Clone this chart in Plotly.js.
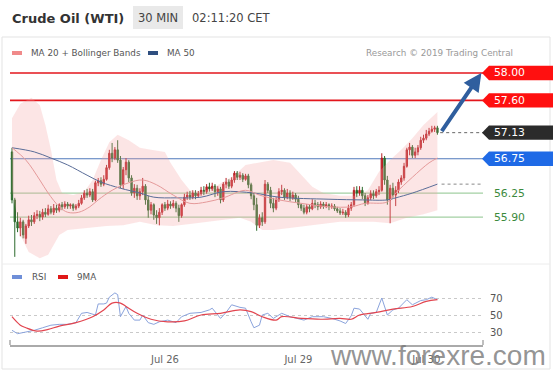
<!DOCTYPE html>
<html><head><meta charset="utf-8">
<script src="https://cdn.plot.ly/plotly-3.0.1.min.js"></script>
<style>html,body{margin:0;padding:0;background:#fff;}#chart{width:553px;height:375px;}</style>
</head><body><div id="chart"></div>
<script>
// ---- candle data (30 min) ----
const open = [56.85,56.15,55.83,55.74,55.83,55.59,55.77,55.86,55.83,55.92,
55.94,55.90,55.97,55.94,56.02,55.97,56.03,56.00,56.08,56.05,
56.09,56.06,56.08,56.03,56.06,56.10,56.18,56.25,56.22,56.27,
56.15,56.40,56.43,56.38,56.45,56.62,56.83,56.76,56.88,56.73,
56.37,56.59,56.70,56.47,56.25,56.32,56.21,56.27,56.35,56.15,
56.00,56.08,55.93,55.89,55.97,56.08,56.03,56.09,56.06,56.10,
56.03,55.92,56.08,56.19,56.22,56.19,56.25,56.21,56.24,56.29,
56.27,56.34,56.31,56.35,56.27,56.31,56.15,56.38,56.41,56.35,
56.44,56.54,56.48,56.51,56.45,56.50,56.37,56.21,56.08,55.78,
55.89,55.83,56.38,56.29,56.10,56.03,56.15,56.27,56.29,56.19,
56.25,56.18,56.22,56.16,56.08,56.03,55.97,56.05,56.02,56.10,
56.08,56.05,56.09,56.06,56.08,56.05,56.06,56.02,55.99,55.96,
55.97,55.93,56.03,56.08,56.29,56.25,56.29,56.21,56.10,56.18,
56.24,56.21,56.27,56.29,56.76,56.44,56.15,56.32,56.22,56.29,
56.41,56.47,56.64,56.88,56.92,56.80,56.85,56.91,57.02,57.05,
57.11,57.15,57.18,57.20];
const close = [56.15,55.83,55.74,55.83,55.64,55.77,55.86,55.83,55.92,55.94,
55.90,55.97,55.94,56.02,55.97,56.03,56.00,56.08,56.05,56.09,
56.06,56.08,56.03,56.06,56.10,56.18,56.25,56.22,56.27,56.15,
56.40,56.43,56.38,56.45,56.62,56.83,56.76,56.88,56.73,56.37,
56.59,56.70,56.47,56.25,56.32,56.21,56.27,56.35,56.15,56.00,
56.08,55.93,55.89,55.97,56.08,56.03,56.09,56.06,56.10,56.03,
55.92,56.08,56.19,56.22,56.19,56.25,56.21,56.24,56.29,56.27,
56.34,56.31,56.35,56.27,56.31,56.15,56.38,56.41,56.35,56.44,
56.54,56.48,56.51,56.45,56.50,56.37,56.21,56.08,55.78,55.89,
55.83,56.38,56.29,56.10,56.03,56.15,56.27,56.29,56.19,56.25,
56.18,56.22,56.16,56.08,56.03,55.97,56.05,56.02,56.10,56.08,
56.05,56.09,56.06,56.08,56.05,56.06,56.02,55.99,55.96,55.97,
55.93,56.03,56.08,56.29,56.25,56.29,56.21,56.10,56.18,56.24,
56.21,56.27,56.29,56.76,56.44,56.15,56.32,56.22,56.29,56.41,
56.47,56.64,56.88,56.92,56.80,56.85,56.91,57.02,57.05,57.11,
57.15,57.18,57.20,57.13];
const high = [56.91,56.18,55.97,55.89,55.86,55.80,55.92,55.93,55.97,56.00,
55.99,56.02,56.03,56.08,56.06,56.09,56.08,56.10,56.12,56.13,
56.12,56.10,56.10,56.09,56.15,56.22,56.29,56.31,56.32,56.31,
56.43,56.47,56.48,56.51,56.66,56.88,56.98,56.92,57.02,56.79,
56.63,56.76,56.73,56.51,56.38,56.37,56.32,56.47,56.38,56.21,
56.12,56.10,56.00,56.03,56.10,56.12,56.15,56.13,56.15,56.13,
56.08,56.10,56.24,56.27,56.28,56.29,56.29,56.28,56.34,56.35,
56.38,56.40,56.40,56.38,56.35,56.34,56.41,56.47,56.45,56.48,
56.57,56.57,56.56,56.54,56.53,56.53,56.40,56.25,56.18,55.94,
55.97,56.44,56.41,56.34,56.18,56.19,56.32,56.37,56.32,56.31,
56.29,56.27,56.25,56.21,56.10,56.08,56.09,56.09,56.16,56.15,
56.12,56.13,56.12,56.12,56.10,56.10,56.09,56.05,56.03,56.02,
56.00,56.08,56.12,56.34,56.35,56.35,56.34,56.25,56.22,56.29,
56.29,56.31,56.35,56.83,56.79,56.50,56.37,56.40,56.35,56.45,
56.51,56.69,56.91,56.98,56.95,56.91,56.95,57.07,57.10,57.17,
57.20,57.23,57.23,57.23];
const low = [56.10,55.32,55.68,55.62,55.59,55.51,55.74,55.77,55.80,55.87,
55.84,55.86,55.90,55.92,55.94,55.93,55.96,55.97,56.00,56.02,
56.02,56.02,55.99,56.00,56.03,56.08,56.15,56.18,56.19,56.12,
56.13,56.35,56.34,56.35,56.43,56.59,56.70,56.73,56.69,56.32,
56.31,56.51,56.41,56.21,56.18,56.15,56.15,56.22,56.08,55.89,
55.94,55.86,55.80,55.78,55.93,55.99,56.00,56.02,56.03,55.97,
55.83,55.89,56.05,56.15,56.15,56.16,56.16,56.18,56.21,56.22,
56.24,56.27,56.28,56.19,56.21,56.10,56.12,56.32,56.31,56.32,
56.40,56.44,56.44,56.41,56.43,56.32,56.16,56.00,55.70,55.74,
55.77,55.80,56.25,56.03,55.97,56.00,56.12,56.22,56.15,56.16,
56.13,56.15,56.12,56.03,55.99,55.94,55.94,55.97,56.00,56.03,
56.00,56.02,56.02,56.03,56.00,56.02,55.99,55.96,55.93,55.93,
55.89,55.90,55.99,56.05,56.19,56.21,56.16,56.06,56.08,56.15,
56.16,56.18,56.22,56.27,56.37,56.08,55.81,56.18,56.06,56.25,
56.37,56.43,56.62,56.80,56.76,56.76,56.80,56.88,56.98,57.02,
57.08,57.13,57.14,57.10];

// ---- indicators (candle index, value) ----
const ma20Idx = [0,5,10,13,17,20,24,28,31,36,42,47,52,58,64,70,76,84,89,96,104,114,122,127,135,138,144,150,153];
const ma20 = [56.91,56.73,56.44,56.25,56.05,55.97,55.97,56.05,56.15,56.29,56.40,56.44,56.37,56.22,56.10,56.12,56.18,56.29,56.22,56.15,56.10,56.05,56.05,56.10,56.12,56.25,56.48,56.69,56.76];
const ma50Idx = [0,8,14,20,27,32,39,46,51,59,68,76,87,96,114,126,135,138,144,153];
const ma50 = [56.91,56.85,56.76,56.66,56.51,56.41,56.32,56.25,56.19,56.18,56.19,56.27,56.25,56.19,56.16,56.15,56.15,56.18,56.25,56.38];
const bbUpIdx = [0,3,7,10,12,14,16,18,22,26,29,32,35,38,42,46,50,55,57,61,64,68,72,76,80,84,88,94,100,104,108,112,118,124,128,132,136,140,144,148,153];
const bbUp = [57.34,57.55,57.64,57.53,57.24,56.88,56.44,56.25,56.22,56.27,56.44,56.73,56.99,57.10,57.02,56.91,56.88,56.85,56.69,56.44,56.29,56.27,56.32,56.41,56.51,56.66,56.69,56.73,56.69,56.51,56.34,56.25,56.21,56.21,56.29,56.56,56.73,56.88,57.05,57.24,57.43];
const bbLoIdx = [0,3,6,10,13,15,17,20,26,30,34,40,46,52,58,64,70,76,82,86,90,94,100,106,112,118,124,130,136,142,148,153];
const bbLo = [56.29,55.64,55.39,55.30,55.35,55.49,55.64,55.71,55.74,55.75,55.77,55.78,55.83,55.78,55.77,55.80,55.83,55.86,55.89,55.83,55.71,55.71,55.74,55.77,55.80,55.83,55.83,55.83,55.81,55.89,55.94,56.00];
const rsiIdx = [0,2,5,8,11,14,17,20,23,25,27,30,31,33,34,35,37,38,39,41,42,44,46,47,49,51,53,56,58,59,61,64,68,71,72,75,77,79,82,84,86,87,89,90,92,94,96,97,100,103,105,108,112,115,118,120,122,123,125,128,129,131,133,135,137,139,142,144,147,149,151,153];
const rsi = [32,28,30,32,35,38,39,39,41,52,53,50,63,63,64,71,76,74,48,60,52,44,44,50,41,39,42,44,42,41,48,52,53,56,58,46,53,62,59,58,42,35,38,50,52,46,50,52,48,46,44,48,48,46,43,40,49,58,57,45,52,53,70,50,56,58,68,62,67,68,71,68];
const rsiMaIdx = [0,3,5,9,13,17,23,29,33,36,39,41,45,50,56,62,68,75,82,86,90,95,97,104,111,118,122,125,131,137,144,149,153];
const rsiMa = [48,38,35,31,33,37,41,48,56,64,64,60,52,45,42,43,50,52,56,54,48,44,48,46,45,46,45,50,53,57,60,66,68];

// ---- levels & labels ----
const resistLevels = [58.00, 57.60];
const pivotLevel = 56.75;
const supportLevels = [56.25, 55.90];
const tickPos = [55, 103, 149];
const tickText = ['Jul 26', 'Jul 29', 'Jul 30'];
const rsiTicks = [30, 50, 70];

const idx = open.map((_, i) => i);
const lastIdx = idx[idx.length - 1];
const lastClose = close[close.length - 1];
const lastMa50 = ma50[ma50.length - 1];

// layout geometry (pixels)
const Lp = 10, Rp = 483, Tp = 62, Bp = 345;
const px = x => (x - Lp) / (Rp - Lp);
const py = y => (Bp - y) / (Bp - Tp);
const xRange = [-0.72, 169.4];
const yRange = [55.245, 58.16];
const priceBottomPx = 262;
const pricePerPx = (yRange[1] - yRange[0]) / (priceBottomPx - Tp);
const FONT = 'DejaVu Sans, Verdana, sans-serif';

const data = [
  {x: bbLoIdx, y: bbLo, type: 'scatter', mode: 'lines', line: {width: 0, color: 'rgba(0,0,0,0)'}, hoverinfo: 'skip', xaxis: 'x', yaxis: 'y'},
  {x: bbUpIdx, y: bbUp, type: 'scatter', mode: 'lines', line: {width: 0, color: 'rgba(0,0,0,0)'}, fill: 'tonexty', fillcolor: 'rgba(246,160,160,0.28)', hoverinfo: 'skip', xaxis: 'x', yaxis: 'y'},
  {x: ma50Idx, y: ma50, type: 'scatter', mode: 'lines', line: {width: 1, color: '#5a6d98', shape: 'spline'}, xaxis: 'x', yaxis: 'y'},
  {x: ma20Idx, y: ma20, type: 'scatter', mode: 'lines', line: {width: 1, color: '#e59a9a', shape: 'spline'}, xaxis: 'x', yaxis: 'y'},
  {x: idx, open: open, high: high, low: low, close: close, type: 'candlestick', xaxis: 'x', yaxis: 'y',
   increasing: {line: {color: '#b52025', width: 1}, fillcolor: '#d9272d'},
   decreasing: {line: {color: '#2c6a2c', width: 1}, fillcolor: '#2f6f2f'},
   whiskerwidth: 0, hoverinfo: 'skip'},
  {x: rsiIdx, y: rsi, type: 'scatter', mode: 'lines', line: {width: 1, color: '#8aa3dc'}, xaxis: 'x', yaxis: 'y2'},
  {x: rsiMaIdx, y: rsiMa, type: 'scatter', mode: 'lines', line: {width: 1.2, color: '#e2454f', shape: 'spline'}, xaxis: 'x', yaxis: 'y2'}
];

const shapes = [];
const annotations = [];

// frame and separators
shapes.push({type: 'rect', xref: 'paper', yref: 'paper', x0: px(2), x1: px(550), y0: py(369), y1: py(37), line: {color: '#e3e3e3', width: 1}, layer: 'below'});
shapes.push({type: 'line', xref: 'paper', yref: 'paper', x0: px(2), x1: px(550), y0: py(264), y1: py(264), line: {color: '#ececec', width: 1}, layer: 'below'});
// axis end ticks
shapes.push({type: 'line', xref: 'paper', yref: 'paper', x0: 0, x1: 0, y0: 0, y1: py(340), line: {color: '#aaaaaa', width: 1.5}});
shapes.push({type: 'line', xref: 'paper', yref: 'paper', x0: 1, x1: 1, y0: 0, y1: py(340), line: {color: '#aaaaaa', width: 1.5}});

// header
shapes.push({type: 'rect', xref: 'paper', yref: 'paper', x0: px(133), x1: px(183), y0: py(29), y1: py(6), fillcolor: '#e9e9e9', line: {width: 0}});
annotations.push({xref: 'paper', yref: 'paper', x: px(10), y: py(18), xanchor: 'left', yanchor: 'middle', text: '<b>Crude Oil (WTI)</b>', showarrow: false, font: {family: FONT, size: 13, color: '#333'}});
annotations.push({xref: 'paper', yref: 'paper', x: px(158), y: py(18), xanchor: 'center', yanchor: 'middle', text: '30 MIN', showarrow: false, font: {family: FONT, size: 11.5, color: '#444'}});
annotations.push({xref: 'paper', yref: 'paper', x: px(190), y: py(18), xanchor: 'left', yanchor: 'middle', text: '02:11:20 CET', showarrow: false, font: {family: FONT, size: 11.5, color: '#444'}});

// legends
const legFont = {family: FONT, size: 8.8, color: '#555'};
shapes.push({type: 'line', xref: 'paper', yref: 'paper', x0: px(12), x1: px(22), y0: py(53), y1: py(53), line: {color: '#f08a8a', width: 4}});
annotations.push({xref: 'paper', yref: 'paper', x: px(29), y: py(53), xanchor: 'left', yanchor: 'middle', text: 'MA 20 + Bollinger Bands', showarrow: false, font: legFont});
shapes.push({type: 'line', xref: 'paper', yref: 'paper', x0: px(148), x1: px(158), y0: py(53), y1: py(53), line: {color: '#2f4f80', width: 4}});
annotations.push({xref: 'paper', yref: 'paper', x: px(165), y: py(53), xanchor: 'left', yanchor: 'middle', text: 'MA 50', showarrow: false, font: legFont});
annotations.push({xref: 'paper', yref: 'paper', x: px(515), y: py(53), xanchor: 'right', yanchor: 'middle', text: 'Research © 2019 Trading Central', showarrow: false, font: {family: FONT, size: 8.8, color: '#999'}});
shapes.push({type: 'line', xref: 'paper', yref: 'paper', x0: px(12), x1: px(22), y0: py(277), y1: py(277), line: {color: '#6f8fd8', width: 4}});
annotations.push({xref: 'paper', yref: 'paper', x: px(30), y: py(277), xanchor: 'left', yanchor: 'middle', text: 'RSI', showarrow: false, font: legFont});
shapes.push({type: 'line', xref: 'paper', yref: 'paper', x0: px(58), x1: px(68), y0: py(277), y1: py(277), line: {color: '#e01818', width: 4}});
annotations.push({xref: 'paper', yref: 'paper', x: px(75), y: py(277), xanchor: 'left', yanchor: 'middle', text: '9MA', showarrow: false, font: legFont});

// level lines
function hline(level, color, width) {
  shapes.push({type: 'line', xref: 'paper', yref: 'y', x0: 0, x1: 1, y0: level, y1: level, line: {color: color, width: width}, layer: 'below'});
}
resistLevels.forEach(l => hline(l, '#e3161c', 1.6));
hline(pivotLevel, '#4f78bb', 1.2);
supportLevels.forEach(l => hline(l, '#a3d0a3', 1.2));

// dotted continuations
shapes.push({type: 'line', xref: 'x', yref: 'y', x0: lastIdx + 1, x1: xRange[1], y0: lastClose, y1: lastClose, line: {color: '#666', width: 1, dash: 'dot'}});
shapes.push({type: 'line', xref: 'x', yref: 'y', x0: lastIdx + 1.5, x1: xRange[1], y0: lastMa50, y1: lastMa50, line: {color: '#888', width: 1, dash: 'dot'}});

// tags
const hh = 7.2 * pricePerPx;
function tag(level, color) {
  const p = level;
  shapes.push({type: 'path', xref: 'paper', yref: 'y',
    path: `M ${px(482)},${p} L ${px(489)},${p + hh} L ${px(553)},${p + hh} L ${px(553)},${p - hh} L ${px(489)},${p - hh} Z`,
    fillcolor: color, line: {width: 0}});
  annotations.push({xref: 'paper', yref: 'y', x: px(492), y: p, xanchor: 'left', yanchor: 'middle', text: p.toFixed(2), showarrow: false, font: {family: FONT, size: 10.8, color: '#ffffff'}});
}
resistLevels.forEach(l => tag(l, '#ff1010'));
tag(lastClose, '#2b2b2b');
tag(pivotLevel, '#1f6ae6');
supportLevels.forEach(l => annotations.push({xref: 'paper', yref: 'y', x: px(492), y: l, xanchor: 'left', yanchor: 'middle', text: l.toFixed(2), showarrow: false, font: {family: FONT, size: 10.8, color: '#3c8a3c'}}));

// target arrow
annotations.push({xref: 'x', yref: 'y', x: xRange[1] - 0.6, y: resistLevels[0], axref: 'x', ayref: 'y', ax: lastIdx + 1.2, ay: lastClose,
  text: '', showarrow: true, arrowhead: 2, arrowsize: 0.9, arrowwidth: 4, arrowcolor: '#2f5e9e', standoff: 0});

// watermark
annotations.push({xref: 'paper', yref: 'paper', x: px(438), y: py(355), xanchor: 'center', yanchor: 'middle', text: 'www.forexre.com', showarrow: false, font: {family: 'Liberation Sans, Arial, sans-serif', size: 28, color: 'rgba(120,120,120,0.8)'}});

const layout = {
  width: 553, height: 375,
  margin: {l: Lp, r: 553 - Rp, t: Tp, b: 375 - Bp, pad: 0},
  paper_bgcolor: '#ffffff', plot_bgcolor: 'rgba(0,0,0,0)',
  showlegend: false,
  font: {family: FONT, color: '#555'},
  xaxis: {domain: [0, 1], range: xRange, anchor: 'y2', showgrid: false, zeroline: false,
    showline: true, linecolor: '#aaaaaa', linewidth: 1.5, ticks: '',
    tickmode: 'array', tickvals: tickPos, ticktext: tickText, tickfont: {family: FONT, size: 10, color: '#666'},
    ticklabelstandoff: 4, rangeslider: {visible: false}, fixedrange: true},
  yaxis: {domain: [py(priceBottomPx), 1], range: yRange, showgrid: false, zeroline: false, showticklabels: false, showline: false, ticks: '', fixedrange: true},
  yaxis2: {domain: [0, py(285)], range: [14.7, 85.3], side: 'right', anchor: 'x', showgrid: true, gridcolor: '#c9c9c9', griddash: 'dot', gridwidth: 1,
    zeroline: false, showline: false, ticks: '', tickmode: 'array', tickvals: rsiTicks, tickfont: {family: FONT, size: 10, color: '#555'}, ticklabelstandoff: 6, fixedrange: true},
  shapes: shapes,
  annotations: annotations
};

Plotly.newPlot('chart', data, layout, {staticPlot: true, displayModeBar: false});
</script>
</body></html>
